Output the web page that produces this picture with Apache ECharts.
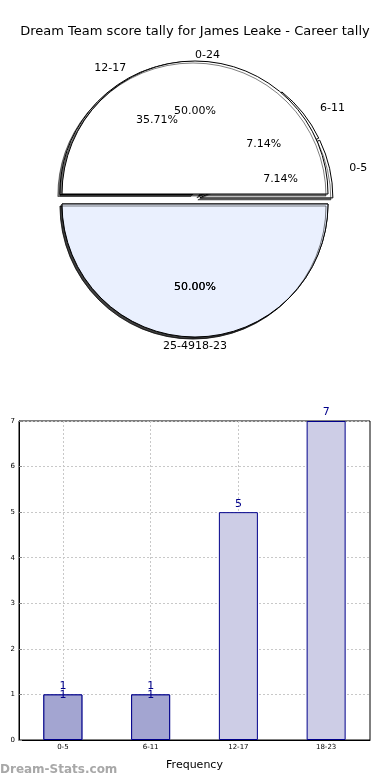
<!DOCTYPE html>
<html>
<head>
<meta charset="utf-8">
<script src="https://cdn.jsdelivr.net/npm/echarts@6/dist/echarts.min.js"></script>
<style>
html,body{margin:0;padding:0;background:#fff;}
#chart{width:390px;height:780px;}
</style>
</head>
<body>
<div id="chart"></div>
<script>
// ---- data ----
const titleText = 'Dream Team score tally for James Leake - Career tally';
const outerNames = ['0-24', '25-49'];
const outerValues = [7, 7];
const innerNames = ['0-5', '6-11', '12-17', '18-23'];
const innerValues = [1, 1, 5, 7];
const barCategories = ['0-5', '6-11', '12-17', '18-23'];
const barValues = [1, 1, 5, 7];
const barOverlayValues = [1, 1, null, null];
const yMin = 0, yMax = 7, yStep = 1;

// ---- style ----
const FONT = 'DejaVu Sans';
const CX = 195, CY = 199, R = 133;
const topFill = '#FFFFFF', bottomFill = '#EAF0FE';
const outerColors = [topFill, bottomFill];
const innerColors = [topFill, topFill, topFill, bottomFill];
const outerLabelShift = [[-5, 3], [5, 0]];
const innerLabelShift = [[6, 2], [5, 1], [0, 2], [37, 0]];

function pct(values, v) {
  const s = values.reduce((a, b) => a + b, 0);
  return (v / s * 100).toFixed(2) + '%';
}

function wedgeStyle(color) {
  return {
    color: color, borderColor: '#000', borderWidth: 1,
    shadowColor: 'rgba(0,0,0,0.5)', shadowBlur: 0, shadowOffsetX: -2, shadowOffsetY: 2
  };
}

function pieSeries(names, values, colors, shifts, z) {
  return {
    type: 'pie', center: [CX, CY], radius: [0, R],
    startAngle: 0, clockwise: false, silent: true, z: z,
    selectedMode: 'multiple', selectedOffset: 5,
    avoidLabelOverlap: false,
    labelLayout: p => ({ hideOverlap: false, dx: shifts[p.dataIndex][0], dy: shifts[p.dataIndex][1] }),
    label: { show: true, position: 'outside', fontFamily: FONT, fontSize: 11, color: '#000', formatter: '{b}' },
    labelLine: { show: false, length: 9, length2: 0 },
    emphasis: { disabled: true },
    data: names.map((n, i) => ({
      name: n, value: values[i], selected: true,
      itemStyle: wedgeStyle(colors[i]),
      select: { itemStyle: wedgeStyle(colors[i]) }
    }))
  };
}

function pctSeries(names, values, z) {
  return {
    type: 'pie', center: [CX, CY], radius: [R * 0.2, R],
    startAngle: 0, clockwise: false, silent: true, z: z,
    selectedMode: 'multiple', selectedOffset: 5,
    avoidLabelOverlap: false,
    labelLayout: { hideOverlap: false },
    label: { show: true, position: 'inside', fontFamily: FONT, fontSize: 11, color: '#000',
      formatter: p => pct(values, p.value) },
    labelLine: { show: false },
    emphasis: { disabled: true },
    itemStyle: { color: 'rgba(0,0,0,0)', borderWidth: 0 },
    data: names.map((n, i) => ({ name: n, value: values[i], selected: true,
      select: { itemStyle: { color: 'rgba(0,0,0,0)', borderWidth: 0 } } }))
  };
}

const option = {
  animation: false,
  backgroundColor: '#fff',
  title: {
    text: titleText, left: 'center', top: 20,
    textStyle: { fontFamily: FONT, fontSize: 13, fontWeight: 'normal', color: '#000' }
  },
  graphic: [{
    type: 'text', left: 0, top: 764,
    style: { text: 'Dream-Stats.com', fontFamily: FONT, fontSize: 12, fontWeight: 'bold', fill: '#a8a8a8' }
  }],
  grid: {
    left: 19, right: 20, top: 421, bottom: 40,
    containLabel: false, outerBoundsMode: 'none',
    show: true, borderColor: '#000', borderWidth: 1, backgroundColor: 'transparent'
  },
  xAxis: {
    type: 'category', data: barCategories, boundaryGap: true,
    name: 'Frequency', nameLocation: 'middle', nameGap: 20,
    nameTextStyle: { fontFamily: FONT, fontSize: 11, color: '#000' },
    axisLine: { lineStyle: { color: '#000' } },
    axisTick: { show: true, inside: true, alignWithLabel: true, length: 3, lineStyle: { color: '#888' } },
    axisLabel: { fontFamily: FONT, fontSize: 7, color: '#000', margin: 4 },
    splitLine: { show: true, alignWithLabel: true, lineStyle: { color: '#c8c8c8', type: [2, 2], width: 1 } }
  },
  yAxis: {
    type: 'value', min: yMin, max: yMax, interval: yStep,
    name: 'Stat Intervals', nameLocation: 'middle', nameGap: 14, nameRotate: 90,
    nameTextStyle: { fontFamily: FONT, fontSize: 11, color: '#000' },
    axisLine: { show: true, lineStyle: { color: '#000' } },
    axisTick: { show: true, inside: true, length: 3, lineStyle: { color: '#888' } },
    axisLabel: { fontFamily: FONT, fontSize: 7, color: '#000', margin: 4 },
    splitLine: { show: true, lineStyle: { color: '#c8c8c8', type: [2, 2], width: 1 } }
  },
  series: [
    pieSeries(innerNames, innerValues, innerColors, innerLabelShift, 2),
    pieSeries(outerNames, outerValues, outerColors, outerLabelShift, 3),
    pctSeries(outerNames, outerValues, 4),
    pctSeries(innerNames, innerValues, 4),
    {
      type: 'bar', data: barValues, barWidth: 39, barGap: '-100%', z: 2, silent: true,
      itemStyle: { color: '#CDCDE6', borderColor: '#00008B', borderWidth: 1 },
      label: { show: true, position: 'top', distance: 3, fontFamily: FONT, fontSize: 11, color: '#00008B' }
    },
    {
      type: 'bar', data: barOverlayValues, barWidth: 39, barGap: '-100%', z: 3, silent: true,
      itemStyle: { color: '#A3A5D1', borderColor: '#00008B', borderWidth: 1 },
      label: { show: true, position: 'top', distance: -6, fontFamily: FONT, fontSize: 11, color: '#00008B' }
    }
  ]
};

const chart = echarts.init(document.getElementById('chart'), null, { renderer: 'canvas' });
chart.setOption(option);
</script>
</body>
</html>
